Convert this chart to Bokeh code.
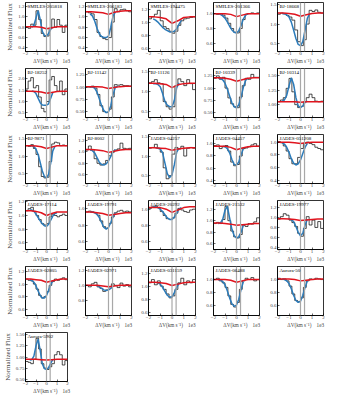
import numpy as np
from bokeh.plotting import figure
from bokeh.layouts import gridplot
from bokeh.models import Range1d, FixedTicker, Span, Label, PrintfTickFormatter
from bokeh.embed import file_html
from bokeh.resources import INLINE

names = ["SMILES-205818", "SMILES-206183", "SMILES-194475", "SMILES-201366", "BJ-18668",
         "BJ-18252", "BJ-11142", "BJ-11126", "BJ-10339", "BJ-10314",
         "BJ-9871", "BJ-8002", "JADES-04257", "JADES-04457", "JADES-051208",
         "JADES-17114", "JADES-19791", "JADES-20292", "JADES-21532", "JADES-19977",
         "JADES-02805", "JADES-02971", "JADES-031159", "JADES-06488", "Aurora-50",
         "Aurora-5902"]

ylims = [[0.33, 1.28], [0.33, 1.28], [0.55, 1.30], [0.49, 1.15], [0.30, 1.55],
         [0.30, 2.45], [0.38, 1.38], [0.35, 1.58], [0.40, 1.40], [0.78, 1.62],
         [0.22, 1.62], [0.45, 1.30], [0.30, 1.55], [0.35, 1.15], [0.35, 1.12],
         [0.50, 1.22], [0.50, 1.10], [0.50, 1.12], [0.50, 1.35], [0.35, 1.35],
         [0.50, 1.28], [0.60, 1.25], [0.55, 1.30], [0.45, 1.20], [0.45, 1.20],
         [0.45, 1.55]]

yticks = [[0.4, 0.6, 0.8, 1.0, 1.2], [0.4, 0.6, 0.8, 1.0, 1.2], [0.6, 0.8, 1.0, 1.2], [0.6, 0.8, 1.0], [0.5, 1.0, 1.5],
          [0.5, 1.0, 1.5, 2.0], [0.5, 0.75, 1.0, 1.25], [0.5, 1.0, 1.5], [0.5, 0.75, 1.0, 1.25], [1.0, 1.25, 1.5],
          [0.5, 1.0, 1.5], [0.6, 0.8, 1.0, 1.2], [0.5, 1.0, 1.5], [0.4, 0.6, 0.8, 1.0], [0.4, 0.6, 0.8, 1.0],
          [0.6, 0.8, 1.0, 1.2], [0.6, 0.8, 1.0], [0.6, 0.8, 1.0], [0.6, 0.8, 1.0, 1.2], [0.4, 0.6, 0.8, 1.0, 1.2],
          [0.6, 0.8, 1.0, 1.2], [0.8, 1.0, 1.2], [0.6, 0.8, 1.0, 1.2], [0.6, 0.8, 1.0], [0.6, 0.8, 1.0],
          [0.5, 0.75, 1.0, 1.25, 1.5]]
ytick_fmt = ["%.1f", "%.1f", "%.1f", "%.1f", "%.1f",
             "%.1f", "%.2f", "%.1f", "%.2f", "%.2f",
             "%.1f", "%.1f", "%.1f", "%.1f", "%.1f",
             "%.1f", "%.1f", "%.1f", "%.1f", "%.1f",
             "%.1f", "%.1f", "%.1f", "%.1f", "%.1f",
             "%.2f"]

xticks = [-2, -1, 0, 1, 2]
vlines = [0.0, 0.35]

obs = [
    [0.80, 0.78, 0.86, 0.84, 1.12, 0.95, 0.68, 0.62, 0.63, 0.78, 0.96, 0.80, 0.95, 0.84, 0.70, 0.84],
    [1.10, 1.08, 1.06, 0.95, 0.70, 0.62, 0.58, 0.56, 0.60, 0.90, 1.16, 1.10, 1.14, 1.15, 1.12, 1.10],
    [1.05, 1.08, 1.12, 1.18, 1.02, 0.93, 0.90, 0.86, 0.83, 0.86, 0.95, 1.02, 1.05, 1.06, 1.07, 1.08],
    [1.00, 0.99, 1.00, 0.98, 0.94, 0.87, 0.80, 0.75, 0.74, 0.80, 0.92, 0.99, 1.00, 1.01, 1.00, 1.01],
    [1.25, 1.28, 1.26, 1.22, 1.18, 1.10, 0.85, 0.55, 0.45, 0.60, 1.00, 1.35, 1.32, 1.36, 1.30, 1.28],
    [1.55, 1.90, 2.05, 1.60, 1.70, 1.20, 0.70, 0.55, 1.00, 1.95, 2.10, 1.70, 1.45, 1.90, 1.30, 1.55],
    [1.01, 1.00, 1.02, 0.98, 0.85, 0.62, 0.50, 0.48, 0.55, 0.80, 1.05, 1.04, 1.05, 1.03, 1.03, 1.02],
    [1.22, 1.25, 1.30, 1.22, 1.20, 0.75, 0.62, 0.56, 0.62, 1.15, 1.32, 1.25, 1.15, 1.30, 1.20, 1.05],
    [1.20, 1.25, 1.18, 1.22, 1.00, 0.80, 0.68, 0.62, 0.60, 0.82, 1.05, 1.20, 1.18, 1.28, 1.22, 1.22],
    [1.05, 1.08, 1.12, 1.28, 1.45, 1.22, 1.00, 0.95, 0.97, 1.05, 1.12, 1.18, 1.12, 1.06, 1.05, 1.06],
    [1.30, 1.28, 1.33, 1.22, 1.05, 0.70, 0.42, 0.38, 0.40, 0.85, 1.35, 1.40, 1.38, 1.30, 1.32, 1.30],
    [1.03, 1.10, 1.04, 0.88, 0.80, 0.77, 0.79, 0.85, 0.93, 0.99, 1.03, 1.05, 1.15, 1.06, 1.05, 1.06],
    [1.20, 1.22, 1.30, 1.20, 1.10, 0.70, 0.42, 0.50, 1.05, 1.22, 1.18, 1.25, 1.00, 1.20, 1.22, 1.20],
    [0.97, 0.98, 0.92, 0.95, 0.97, 0.88, 0.70, 0.64, 0.66, 0.80, 0.92, 0.93, 0.95, 0.98, 1.00, 0.96],
    [1.01, 0.99, 0.94, 0.86, 0.74, 0.66, 0.66, 0.76, 0.90, 0.98, 1.00, 0.98, 0.96, 0.92, 0.90, 0.88],
    [1.07, 1.10, 1.12, 1.06, 1.00, 0.94, 0.88, 0.86, 0.88, 0.98, 1.02, 1.00, 0.98, 1.00, 1.02, 1.00],
    [0.96, 0.97, 0.96, 0.95, 0.92, 0.85, 0.78, 0.76, 0.82, 0.90, 0.95, 0.97, 0.98, 0.96, 0.97, 0.96],
    [1.02, 1.04, 1.05, 1.03, 0.98, 0.93, 0.89, 0.88, 0.90, 0.96, 1.02, 1.00, 0.98, 0.97, 1.00, 1.01],
    [0.95, 0.97, 0.95, 1.02, 1.25, 1.00, 0.82, 0.72, 0.70, 0.76, 0.92, 0.90, 0.95, 0.94, 0.98, 1.05],
    [0.97, 1.02, 1.08, 1.05, 0.95, 0.90, 0.82, 0.68, 0.62, 0.78, 1.02, 0.85, 0.95, 0.80, 0.92, 0.78],
    [1.08, 1.06, 1.05, 1.00, 0.92, 0.82, 0.78, 0.80, 0.88, 0.98, 1.04, 1.08, 1.06, 1.08, 1.10, 1.07],
    [1.00, 0.98, 1.02, 1.04, 0.98, 0.96, 0.92, 0.94, 0.98, 1.02, 1.00, 0.97, 1.03, 0.99, 1.01, 0.98],
    [1.05, 1.10, 1.02, 1.08, 1.00, 0.95, 0.88, 0.82, 0.85, 0.95, 1.05, 1.12, 1.02, 1.08, 1.05, 1.10],
    [1.00, 1.02, 0.98, 0.95, 0.88, 0.75, 0.62, 0.58, 0.65, 0.85, 0.98, 1.02, 1.00, 1.03, 0.98, 1.00],
    [1.02, 1.00, 1.01, 0.98, 0.90, 0.78, 0.68, 0.66, 0.72, 0.88, 0.98, 1.01, 1.00, 1.02, 1.01, 1.00],
    [0.90, 0.88, 0.85, 0.95, 1.42, 1.18, 0.85, 0.75, 0.72, 0.78, 0.85, 1.05, 1.12, 1.05, 0.82, 0.92],
]

fit_x = [-1.6, -1.4, -1.2, -1.0, -0.8, -0.6, -0.4, -0.2, 0.0, 0.2, 0.4, 0.6, 0.8, 1.0, 1.2]
fit = [
    [None, 0.80, 0.84, 0.98, 1.12, 0.95, 0.72, 0.64, 0.63, 0.68, 0.76, 0.80, None, None, None],
    [1.06, 1.02, 0.92, 0.78, 0.67, 0.62, 0.60, 0.60, 0.63, 0.80, 1.02, 1.10, None, None, None],
    [1.05, 1.03, 1.00, 0.96, 0.92, 0.89, 0.87, 0.85, 0.85, 0.86, 0.90, 0.97, 1.03, None, None],
    [1.00, 0.99, 0.97, 0.94, 0.89, 0.83, 0.78, 0.75, 0.74, 0.77, 0.84, 0.93, 0.98, 1.00, None],
    [1.27, 1.26, 1.24, 1.18, 1.05, 0.85, 0.63, 0.48, 0.45, 0.55, 0.85, 1.15, 1.26, None, None],
    [None, 1.46, 1.44, 1.35, 1.15, 0.95, 0.85, 0.84, 0.84, 0.90, 1.15, 1.40, None, None, None],
    [1.00, 1.00, 0.98, 0.90, 0.76, 0.62, 0.52, 0.48, 0.50, 0.62, 0.85, 1.00, 1.02, None, None],
    [1.20, 1.20, 1.18, 1.12, 0.95, 0.75, 0.66, 0.62, 0.62, 0.78, 1.10, 1.22, None, None, None],
    [1.21, 1.20, 1.17, 1.10, 0.98, 0.84, 0.70, 0.62, 0.60, 0.66, 0.82, 1.02, 1.16, 1.20, None],
    [1.06, 1.08, 1.16, 1.32, 1.46, 1.35, 1.12, 0.98, 0.95, 0.98, 1.04, 1.06, None, None, None],
    [1.30, 1.30, 1.28, 1.20, 1.05, 0.82, 0.58, 0.42, 0.38, 0.48, 0.80, 1.15, 1.28, None, None],
    [1.03, 1.02, 0.98, 0.90, 0.82, 0.78, 0.77, 0.79, 0.84, 0.92, 1.00, 1.04, None, None, None],
    [None, 1.21, 1.20, 1.18, 1.08, 0.82, 0.55, 0.45, 0.52, 0.78, 1.10, 1.20, None, None, None],
    [None, None, 0.96, 0.95, 0.92, 0.85, 0.74, 0.66, 0.65, 0.70, 0.82, 0.92, None, None, None],
    [0.99, 0.97, 0.92, 0.84, 0.74, 0.67, 0.64, 0.66, 0.72, 0.82, 0.92, 0.98, None, None, None],
    [1.08, 1.08, 1.06, 1.02, 0.97, 0.92, 0.88, 0.85, 0.84, 0.87, 0.93, 0.99, 1.03, 1.04, None],
    [0.96, 0.96, 0.95, 0.93, 0.89, 0.83, 0.77, 0.75, 0.77, 0.83, 0.90, 0.95, None, None, None],
    [1.04, 1.04, 1.03, 1.01, 0.98, 0.94, 0.90, 0.88, 0.88, 0.91, 0.96, 1.01, 1.03, None, None],
    [0.95, 0.96, 1.02, 1.18, 1.25, 1.05, 0.85, 0.74, 0.70, 0.72, 0.80, 0.92, None, None, None],
    [None, None, None, 0.97, 0.96, 0.92, 0.82, 0.70, 0.63, 0.68, 0.85, 0.97, None, None, None],
    [1.07, 1.06, 1.03, 0.97, 0.89, 0.82, 0.78, 0.78, 0.82, 0.90, 0.99, 1.05, None, None, None],
    [None, None, None, 1.00, 0.98, 0.96, 0.94, 0.93, 0.94, 0.96, 0.99, None, None, None, None],
    [None, None, 1.05, 1.03, 0.98, 0.92, 0.86, 0.83, 0.84, 0.90, 0.98, 1.04, None, None, None],
    [1.00, 0.99, 0.97, 0.92, 0.83, 0.72, 0.63, 0.59, 0.61, 0.70, 0.85, 0.97, None, None, None],
    [1.01, 1.00, 0.98, 0.94, 0.86, 0.76, 0.68, 0.65, 0.67, 0.76, 0.88, 0.98, None, None, None],
    [0.93, 0.94, 1.02, 1.25, 1.40, 1.15, 0.85, 0.74, 0.72, 0.76, 0.86, 0.94, None, None, None],
]

cont_x = [-2.0, -1.5, -1.0, -0.5, 0.0, 0.5, 1.0, 1.5, 2.0]
cont = [
    [0.81, 0.81, 0.81, 0.80, 0.77, 0.79, 0.81, 0.81, 0.81],
    [1.10, 1.10, 1.09, 1.08, 1.05, 1.09, 1.11, 1.12, 1.12],
    [1.08, 1.08, 1.07, 1.05, 0.98, 1.02, 1.07, 1.08, 1.08],
    [1.00, 1.00, 1.00, 0.99, 0.96, 0.98, 1.00, 1.00, 1.00],
    [1.28, 1.28, 1.27, 1.25, 1.20, 1.24, 1.27, 1.28, 1.28],
    [1.45, 1.45, 1.44, 1.42, 1.36, 1.40, 1.44, 1.45, 1.45],
    [1.01, 1.01, 1.01, 1.00, 0.97, 0.99, 1.01, 1.02, 1.02],
    [1.21, 1.21, 1.20, 1.18, 1.10, 1.17, 1.20, 1.21, 1.21],
    [1.21, 1.21, 1.20, 1.18, 1.14, 1.17, 1.20, 1.21, 1.21],
    [1.05, 1.05, 1.05, 1.05, 1.04, 1.05, 1.05, 1.05, 1.05],
    [1.30, 1.30, 1.29, 1.27, 1.22, 1.26, 1.30, 1.30, 1.30],
    [1.04, 1.04, 1.03, 1.02, 0.99, 1.01, 1.03, 1.04, 1.04],
    [1.21, 1.21, 1.20, 1.19, 1.15, 1.18, 1.20, 1.21, 1.21],
    [0.96, 0.96, 0.96, 0.94, 0.90, 0.93, 0.95, 0.96, 0.96],
    [1.00, 1.00, 1.00, 0.99, 0.98, 0.99, 1.00, 1.00, 1.00],
    [1.07, 1.07, 1.06, 1.04, 1.00, 1.03, 1.05, 1.05, 1.05],
    [0.96, 0.96, 0.95, 0.94, 0.92, 0.93, 0.94, 0.95, 0.95],
    [1.03, 1.03, 1.03, 1.01, 0.97, 1.00, 1.03, 1.04, 1.04],
    [0.96, 0.96, 0.95, 0.94, 0.92, 0.93, 0.94, 0.95, 0.95],
    [0.98, 0.98, 0.97, 0.96, 0.94, 0.95, 0.96, 0.97, 0.97],
    [1.08, 1.08, 1.07, 1.06, 1.03, 1.05, 1.07, 1.08, 1.08],
    [1.00, 1.00, 1.00, 0.99, 0.98, 0.99, 1.00, 1.00, 1.00],
    [1.06, 1.06, 1.05, 1.04, 1.01, 1.03, 1.05, 1.06, 1.06],
    [1.00, 1.00, 1.00, 0.99, 0.96, 0.98, 1.00, 1.00, 1.00],
    [1.01, 1.01, 1.01, 1.00, 0.98, 0.99, 1.00, 1.01, 1.01],
    [0.95, 0.95, 0.95, 0.94, 0.93, 0.94, 0.95, 0.95, 0.95],
]

FONT = "Liberation Serif"
NCOL = 5
FRAME_W = 47
ROW_H = 66
NB = "\u00a0"
XLABEL = NB * 8 + "ΔV(km s⁻¹)" + NB * 4 + "1e3"
edges = np.linspace(-2, 2, 17)


def make_panel(i):
    col = i % NCOL
    lb = 20 if col == 0 else 12
    rb = 9 if col == NCOL - 1 else 5
    lo, hi = ylims[i]
    p = figure(width=lb + FRAME_W + rb, height=ROW_H, output_backend="svg",
               toolbar_location=None, x_range=Range1d(-2, 2), y_range=Range1d(lo, hi),
               min_border_left=lb, min_border_right=rb, min_border_top=2, min_border_bottom=12)
    p.grid.visible = False
    p.outline_line_color = "black"
    p.outline_line_width = 0.8
    p.background_fill_color = "white"
    p.border_fill_color = "white"

    for v in vlines:
        p.add_layout(Span(location=v, dimension="height", line_color="#a8a8a8", line_width=1.2))

    ys = list(obs[i]) + [obs[i][-1]]
    p.step(edges, ys, mode="after", line_color="black", line_width=0.7)
    fy = np.array([np.nan if v is None else v for v in fit[i]], dtype=float)
    p.line(fit_x, fy, line_color="#2b7bba", line_width=1.5)
    p.line(cont_x, cont[i], line_color="#e0141e", line_width=1.5)

    p.xaxis.ticker = FixedTicker(ticks=xticks)
    p.yaxis.ticker = FixedTicker(ticks=yticks[i])
    p.yaxis.formatter = PrintfTickFormatter(format=ytick_fmt[i])
    for ax in p.axis:
        ax.major_tick_in = 2
        ax.major_tick_out = 0
        ax.minor_tick_in = 0
        ax.minor_tick_out = 0
        ax.major_label_standoff = 1
        ax.major_label_text_font = FONT
        ax.major_label_text_font_size = "5px"
        ax.axis_line_width = 0.8
        ax.major_tick_line_width = 0.6
    p.xaxis.major_label_standoff = 0
    p.xaxis.axis_label = XLABEL
    p.xaxis.axis_label_standoff = 0
    p.xaxis.axis_label_text_font = FONT
    p.xaxis.axis_label_text_font_size = "5.2px"
    p.xaxis.axis_label_text_font_style = "normal"
    if col == 0:
        p.yaxis.axis_label = "Normalized Flux"
        p.yaxis.axis_label_standoff = 1
        p.yaxis.axis_label_text_font = FONT
        p.yaxis.axis_label_text_font_size = "7px"
        p.yaxis.axis_label_text_font_style = "normal"

    p.add_layout(Label(x=-2, y=hi, x_offset=2, y_offset=-1, text=names[i],
                       text_font=FONT, text_font_size="5px", text_baseline="top",
                       text_align="left", text_color="black"))
    return p


panels = [make_panel(i) for i in range(len(names))]
rows = []
for r in range(0, len(panels), NCOL):
    row = panels[r:r + NCOL]
    row = row + [None] * (NCOL - len(row))
    rows.append(row)

grid = gridplot(rows, toolbar_location=None)

open("out.html", "w").write(file_html(grid, INLINE))
